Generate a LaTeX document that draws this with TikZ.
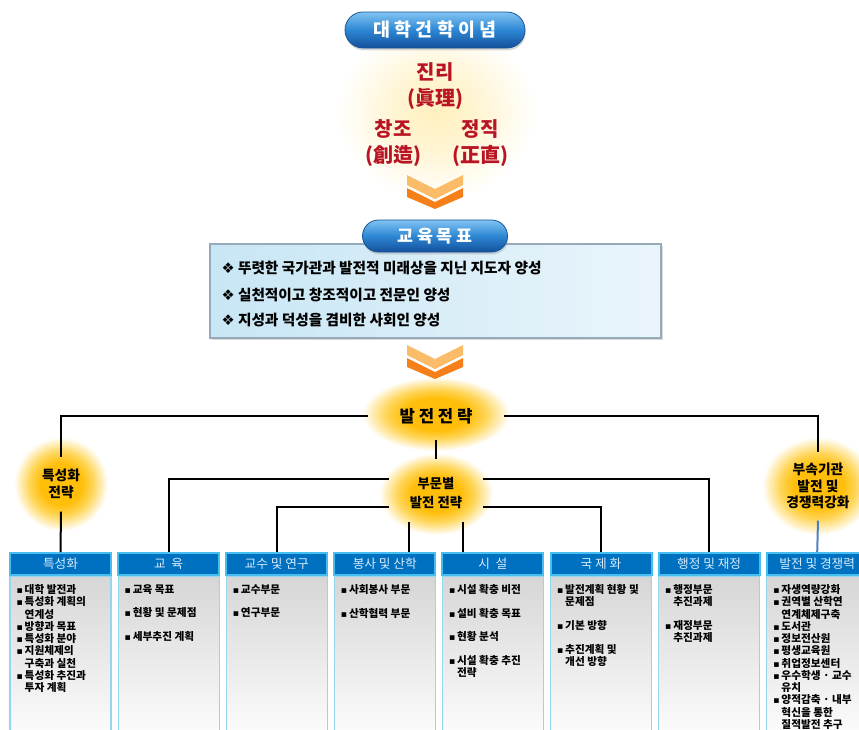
\documentclass[tikz,border=0pt]{standalone}
\usepackage{fontspec}
\setmainfont{Noto Sans CJK KR}
\newfontfamily\symfont{DejaVu Sans}
\usetikzlibrary{positioning,shapes.geometric,shadows}

\definecolor{glowgold}{RGB}{255,190,10}
\definecolor{glowmid}{RGB}{255,214,90}
\definecolor{paleyel}{RGB}{255,240,190}
\pgfdeclareradialshading{glowshade}{\pgfpoint{0bp}{0bp}}{color(0bp)=(glowgold); color(11bp)=(glowgold); color(17bp)=(glowmid); color(25bp)=(white); color(50bp)=(white)}
\pgfdeclareradialshading{paleshade}{\pgfpoint{0bp}{0bp}}{color(0bp)=(paleyel); color(10bp)=(paleyel!70!white); color(25bp)=(white); color(50bp)=(white)}

\newcommand{\bul}{{\symfont\scriptsize ▪}\,}
\newcommand{\contind}{\hphantom{\bul}}

\tikzset{every picture/.style={line width=0.75pt}}
\tikzset{
  pill/.style={draw={rgb, 255:red, 25; green, 85; blue, 150 }, line width=0.6,
    top color={rgb, 255:red, 130; green, 195; blue, 242 }, bottom color={rgb, 255:red, 20; green, 80; blue, 155 },
    middle color={rgb, 255:red, 45; green, 135; blue, 212 }, text=white, inner sep=0pt,
    drop shadow={opacity=0.3, shadow xshift=0.6pt, shadow yshift=-1.8pt}},
  redtxt/.style={text={rgb, 255:red, 185; green, 20; blue, 35 }, align=center, inner sep=0pt,
    font=\fontsize{15}{19.75}\selectfont\bfseries},
  goaltxt/.style={anchor=west, inner sep=0pt, font=\fontsize{11}{13}\selectfont\bfseries},
  glowtxt/.style={ellipse, align=center, inner sep=0pt, font=\bfseries},
  colhead/.style={draw={rgb, 255:red, 70; green, 190; blue, 240 }, line width=1.5,
    fill={rgb, 255:red, 0; green, 112; blue, 192 }, minimum width=75.75pt, minimum height=16.5pt,
    inner sep=0pt, text={rgb, 255:red, 215; green, 235; blue, 252 }, font=\fontsize{9.5}{11}\selectfont},
  colbody/.style={draw={rgb, 255:red, 150; green, 212; blue, 240 }, line width=0.8,
    top color={rgb, 255:red, 214; green, 214; blue, 214 }, bottom color=white,
    minimum width=75.75pt, minimum height=127.5pt, inner sep=0pt},
  coltxt/.style={anchor=north west, align=left, inner sep=0pt, font=\fontsize{8}{9.2}\selectfont\bfseries},
  conn/.style={line width=1.5},
  chevlight/.style={fill={rgb, 255:red, 250; green, 188; blue, 105 }},
  chevdark/.style={fill={rgb, 255:red, 245; green, 128; blue, 25 }}
}

\begin{document}
\begin{tikzpicture}[x=0.75pt,y=0.75pt,yscale=-1,xscale=1]
\useasboundingbox (0,0) rectangle (859,729);

%Glows
\shade[shading=paleshade] (436,112) ellipse (100 and 88);
\shade[shading=glowshade] (436,414) ellipse (74 and 37);
\shade[shading=glowshade] (436,494) ellipse (57 and 41);
\shade[shading=glowshade] (61,484) ellipse (47 and 47);
\shade[shading=glowshade] (818,486) ellipse (56 and 49);

%Chevrons
\fill[chevlight] (407,175) -- (435,189) -- (463,175) -- (463,185) -- (435,199) -- (407,185) -- cycle;
\fill[chevdark] (407,188) -- (435,202) -- (463,188) -- (463,197) -- (435,209) -- (407,197) -- cycle;
\fill[chevlight, shift={(0,170)}] (407,175) -- (435,189) -- (463,175) -- (463,185) -- (435,199) -- (407,185) -- cycle;
\fill[chevdark, shift={(0,170)}] (407,188) -- (435,202) -- (463,188) -- (463,197) -- (435,209) -- (407,197) -- cycle;

%Founding ideals
\node[pill, minimum width=135pt, minimum height=27pt, rounded corners=13.5pt,
  font=\fontsize{13.8}{16}\selectfont\bfseries] (ttl) at (435,30) {대 학 건 학 이 념};
\node[redtxt] (truth) at (435,86) {진리\\(眞理)};
\node[redtxt] (creat) at (393,143) {창조\\(創造)};
\node[redtxt] (honest) at (480,143) {정직\\(正直)};

%Educational goals
\node[draw={rgb, 255:red, 150; green, 170; blue, 185 }, line width=1,
  left color={rgb, 255:red, 200; green, 230; blue, 245 }, right color={rgb, 255:red, 234; green, 245; blue, 251 },
  minimum width=338.25pt, minimum height=70.5pt, inner sep=0pt,
  drop shadow={opacity=0.3, shadow xshift=1.2pt, shadow yshift=-1.2pt}] (goalbox) at (435.5,291) {};
\node[pill, minimum width=108.75pt, minimum height=24pt, rounded corners=12pt,
  font=\fontsize{13}{15}\selectfont\bfseries] (goalpill) at (435,236) {교 육 목 표};
\node[goaltxt] (g1) at (221,268) {{\symfont ❖} 뚜렷한 국가관과 발전적 미래상을 지닌 지도자 양성};
\node[goaltxt] (g2) at (221,295) {{\symfont ❖} 실천적이고 창조적이고 전문인 양성};
\node[goaltxt] (g3) at (221,320) {{\symfont ❖} 지성과 덕성을 겸비한 사회인 양성};

%Strategies
\node[glowtxt, minimum width=101.25pt, minimum height=34.5pt, font=\fontsize{12.5}{15}\selectfont\bfseries] (strat) at (436,416) {발 전 전 략};
\node[glowtxt, minimum width=76.5pt, minimum height=51pt, font=\fontsize{10}{14}\selectfont\bfseries] (dept) at (436,493) {부문별\\발전 전략};
\node[glowtxt, minimum width=40.5pt, minimum height=40.5pt, font=\fontsize{10.3}{12.75}\selectfont\bfseries] (spec) at (61,484) {특성화\\전략};
\node[glowtxt, minimum width=45pt, minimum height=51pt, font=\fontsize{10.3}{12.4}\selectfont\bfseries] (affil) at (818,486) {부속기관\\발전 및\\경쟁력강화};

%Column heads
\node[colhead] (h1) at (60.5,564) {특성화};
\node[colhead] (h2) at (168.6,564) {교\ \ 육};
\node[colhead] (h3) at (276.7,564) {교수 및 연구};
\node[colhead] (h4) at (384.8,564) {봉사 및 산학};
\node[colhead] (h5) at (492.9,564) {시\ \ 설};
\node[colhead] (h6) at (601,564) {국 제 화};
\node[colhead] (h7) at (709.1,564) {행정 및 재정};
\node[colhead] (h8) at (817.2,564) {발전 및 경쟁력};

%Column bodies
\node[colbody, below=0pt of h1] (b1) {};
\node[colbody, below=0pt of h2] (b2) {};
\node[colbody, below=0pt of h3] (b3) {};
\node[colbody, below=0pt of h4] (b4) {};
\node[colbody, below=0pt of h5] (b5) {};
\node[colbody, below=0pt of h6] (b6) {};
\node[colbody, below=0pt of h7] (b7) {};
\node[colbody, below=0pt of h8] (b8) {};

%Column texts
\node[coltxt, below right=6pt and 5pt of b1.north west] (t1) {\bul 대학 발전과\\ \bul 특성화 계획의\\ \contind 연계성\\ \bul 방향과 목표\\ \bul 특성화 분야\\ \bul 지원체제의\\ \contind 구축과 실천\\ \bul 특성화 추진과\\ \contind 투자 계획};
\node[coltxt, below right=6pt and 5pt of b2.north west] (t2) {\bul 교육 목표\\[8.5pt] \bul 현황 및 문제점\\[8.5pt] \bul 세부추진 계획};
\node[coltxt, below right=6pt and 5pt of b3.north west] (t3) {\bul 교수부문\\[8.5pt] \bul 연구부문};
\node[coltxt, below right=6pt and 5pt of b4.north west] (t4) {\bul 사회봉사 부문\\[8.5pt] \bul 산학협력 부문};
\node[coltxt, below right=6pt and 5pt of b5.north west] (t5) {\bul 시설 확충 비전\\[8.5pt] \bul 설비 확충 목표\\[8.5pt] \bul 현황 분석\\[8.5pt] \bul 시설 확충 추진\\ \contind 전략};
\node[coltxt, below right=6pt and 5pt of b6.north west] (t6) {\bul 발전계획 현황 및\\ \contind 문제점\\[8.5pt] \bul 기본 방향\\[8.5pt] \bul 추진계획 및\\ \contind 개선 방향};
\node[coltxt, below right=6pt and 5pt of b7.north west] (t7) {\bul 행정부문\\ \contind 추진과제\\[8.5pt] \bul 재정부문\\ \contind 추진과제};
\node[coltxt, below right=6pt and 5pt of b8.north west] (t8) {\bul 자생역량강화\\ \bul 권역별 산학연\\ \contind 연계체제구축\\ \bul 도서관\\ \bul 정보전산원\\ \bul 평생교육원\\ \bul 취업정보센터\\ \bul 우수학생 · 교수\\ \contind 유치\\ \bul 양적감축 · 내부\\ \contind 혁신을 통한\\ \contind 질적발전 추구};

%Connectors
\draw[conn] (strat.west) -| (spec.north);
\draw[conn] (strat.east) -| (affil.north);
\draw[conn] (strat.south) -- (dept.north);
\draw[conn] (spec.south) -- (h1.north);
\draw[conn, color={rgb, 255:red, 79; green, 129; blue, 189 }] (affil.south) -- (h8.north);
\draw[conn] (dept.164) -| (h2.north);
\draw[conn] (dept.16) -| (h7.north);
\draw[conn] (dept.197) -| (h3.north);
\draw[conn] (dept.343) -| (h6.north);
\draw[conn] (dept.227) -- (dept.227 |- h4.north);
\draw[conn] (dept.313) -- (dept.313 |- h5.north);
\end{tikzpicture}
\end{document}
